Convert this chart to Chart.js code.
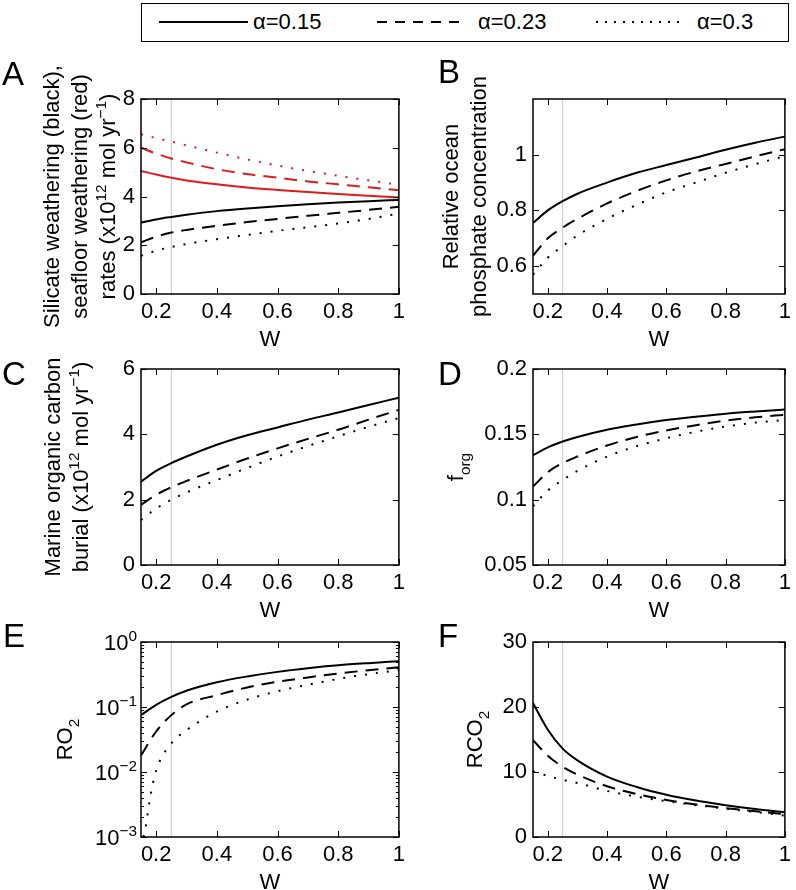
<!DOCTYPE html>
<html lang="en">
<head>
<meta charset="UTF-8">
<title>Weathering model sensitivity to W</title>
<script src="https://cdn.jsdelivr.net/npm/chart.js@4"></script>
<style>
  body { margin: 0; background: #fff; }
  #wrap { position: relative; width: 796px; height: 890px; overflow: hidden;
          font-family: 'Liberation Sans', Arial, sans-serif; }
  canvas.panel { position: absolute; }
  #legend { position: absolute; left: 141px; top: 3px; width: 648px; height: 39px;
            box-sizing: border-box; border: 1.5px solid #000; }
  #legend span { position: absolute; top: 0; line-height: 36px; font-size: 22px; color: #000; }
  #legend svg { position: absolute; left: 0; top: 0; }
</style>
</head>
<body>
<div id="wrap">
  <div id="legend"></div>
  <canvas class="panel" id="pA" width="410" height="305" style="left:0;top:45px"></canvas>
  <canvas class="panel" id="pB" width="386" height="305" style="left:410px;top:45px"></canvas>
  <canvas class="panel" id="pC" width="410" height="295" style="left:0;top:330px"></canvas>
  <canvas class="panel" id="pD" width="386" height="295" style="left:410px;top:330px"></canvas>
  <canvas class="panel" id="pE" width="410" height="290" style="left:0;top:600px"></canvas>
  <canvas class="panel" id="pF" width="386" height="290" style="left:410px;top:600px"></canvas>
</div>

<script>
// ---- data ----
const wValues = [0.15, 0.2, 0.25, 0.3, 0.4, 0.5, 0.6, 0.7, 0.8, 0.9, 1.0];
const alphaLabels = ['α=0.15', 'α=0.23', 'α=0.3'];
const xTickValues = [0.2, 0.4, 0.6, 0.8, 1];
const presentW = 0.25;

// A: silicate weathering (black) / seafloor weathering (red), 1e12 mol/yr
const silicateA15 = [2.93, 3.06, 3.16, 3.25, 3.40, 3.51, 3.60, 3.68, 3.75, 3.81, 3.86];
const silicateA23 = [2.12, 2.35, 2.52, 2.63, 2.80, 2.95, 3.08, 3.21, 3.33, 3.45, 3.58];
const silicateA30 = [1.57, 1.78, 1.93, 2.05, 2.25, 2.42, 2.59, 2.74, 2.89, 3.08, 3.30];
const seafloorA15 = [5.05, 4.90, 4.77, 4.66, 4.50, 4.37, 4.27, 4.18, 4.10, 4.03, 3.96];
const seafloorA23 = [6.00, 5.76, 5.56, 5.40, 5.12, 4.92, 4.77, 4.62, 4.50, 4.38, 4.26];
const seafloorA30 = [6.55, 6.40, 6.25, 6.10, 5.80, 5.52, 5.27, 5.05, 4.85, 4.66, 4.48];
const yTicksA = [0, 2, 4, 6, 8];

// B: relative ocean phosphate
const phosphateB15 = [0.755, 0.80, 0.833, 0.86, 0.90, 0.935, 0.963, 0.99, 1.018, 1.043, 1.065];
const phosphateB23 = [0.637, 0.70, 0.738, 0.77, 0.825, 0.87, 0.908, 0.94, 0.967, 0.994, 1.02];
const phosphateB30 = [0.57, 0.63, 0.672, 0.71, 0.77, 0.82, 0.865, 0.90, 0.935, 0.966, 0.995];
const yTicksB = [0.6, 0.8, 1];

// C: marine organic carbon burial, 1e12 mol/yr
const burialC15 = [2.55, 2.88, 3.12, 3.32, 3.68, 3.97, 4.21, 4.45, 4.67, 4.90, 5.12];
const burialC23 = [1.84, 2.15, 2.38, 2.57, 2.92, 3.26, 3.57, 3.86, 4.14, 4.45, 4.75];
const burialC30 = [1.38, 1.73, 2.00, 2.22, 2.60, 2.97, 3.32, 3.64, 3.94, 4.23, 4.50];
const yTicksC = [0, 2, 4, 6];

// D: f_org
const forgD15 = [0.134, 0.140, 0.1445, 0.148, 0.1535, 0.1575, 0.161, 0.1635, 0.1658, 0.1675, 0.169];
const forgD23 = [0.110, 0.121, 0.128, 0.133, 0.1415, 0.148, 0.153, 0.157, 0.1605, 0.163, 0.165];
const forgD30 = [0.095, 0.107, 0.115, 0.122, 0.133, 0.141, 0.147, 0.152, 0.156, 0.159, 0.161];
const yTicksD = [0.05, 0.1, 0.15, 0.2];

// E: RO2 (log axis); the alpha=0.3 curve has its own W samples near the low end
const ro2E15 = [0.075, 0.108, 0.143, 0.178, 0.240, 0.295, 0.347, 0.394, 0.437, 0.473, 0.507];
const ro2E23 = [0.018, 0.042, 0.075, 0.11, 0.152, 0.20, 0.244, 0.285, 0.327, 0.368, 0.41];
const wValuesE30 = [0.158, 0.165, 0.18, 0.2, 0.25, 0.3, 0.4, 0.5, 0.6, 0.7, 0.8, 0.9, 1.0];
const ro2E30 = [0.001, 0.0014, 0.004, 0.0105, 0.0275, 0.044, 0.085, 0.13, 0.175, 0.22, 0.27, 0.32, 0.37];
const yTicksE = [0.001, 0.01, 0.1, 1];
const yExponentsE = ['−3', '−2', '−1', '0'];

// F: RCO2
const rco2F15 = [20.6, 16.5, 13.6, 11.8, 9.3, 7.7, 6.5, 5.6, 4.9, 4.3, 3.8];
const rco2F23 = [14.9, 12.5, 10.8, 9.6, 7.8, 6.6, 5.7, 5.0, 4.45, 3.95, 3.5];
const rco2F30 = [10.1, 9.4, 8.8, 8.3, 7.1, 6.2, 5.5, 4.9, 4.35, 3.85, 3.3];
const yTicksF = [0, 10, 20, 30];

// ---- styling ----
const FONT = "'Liberation Sans', Arial, sans-serif";
const RED = '#e31a1c';
const dashes = [[], [13, 8], [2, 9]];
const legendDashes = [[], [10, 8], [2, 7]];

Chart.defaults.font.family = FONT;
Chart.defaults.font.size = 22;
Chart.defaults.color = '#000';

// legend
(function buildLegend() {
  const lg = document.getElementById('legend');
  const swatchX = [17, 235, 454];
  const swatchLen = [89, 90, 86];
  const textX = [111, 336, 555];
  let svg = '<svg width="646" height="36">';
  alphaLabels.forEach((lab, i) => {
    svg += '<line x1="' + swatchX[i] + '" y1="18" x2="' + (swatchX[i] + swatchLen[i]) +
      '" y2="18" stroke="#000" stroke-width="2" stroke-dasharray="' +
      (legendDashes[i].length ? legendDashes[i].join(' ') : 'none') + '"/>';
  });
  svg += '</svg>';
  lg.innerHTML = svg + alphaLabels.map((lab, i) =>
    '<span style="left:' + textX[i] + 'px">' + lab + '</span>').join('');
})();

// rich text helpers (super/subscripts)
function setFont(ctx, size) { ctx.font = size + 'px ' + FONT; }
function richWidth(ctx, segs, size) {
  let w = 0;
  segs.forEach(s => { setFont(ctx, s.k ? size * 0.7 : size); w += ctx.measureText(s.t).width; });
  return w;
}
function drawRich(ctx, segs, x, y, size) {
  segs.forEach(s => {
    setFont(ctx, s.k ? size * 0.7 : size);
    const dy = s.k === 'sup' ? -size * 0.42 : s.k === 'sub' ? size * 0.3 : 0;
    ctx.fillText(s.t, x, y + dy);
    x += ctx.measureText(s.t).width;
  });
}
const T = t => ({ t });
const SUP = t => ({ t, k: 'sup' });
const SUB = t => ({ t, k: 'sub' });

function makeDecor(meta) {
  return {
    id: 'panelDecor',
    afterDraw(chart) {
      const ctx = chart.ctx, a = chart.chartArea;
      const xs = chart.scales.x, ys = chart.scales.y;
      ctx.save();
      ctx.fillStyle = '#000';
      ctx.strokeStyle = '#000';
      // inward tick marks on all four sides
      ctx.lineWidth = 1;
      ctx.beginPath();
      xTickValues.forEach(v => {
        const px = Math.round(xs.getPixelForValue(v)) + 0.5;
        ctx.moveTo(px, a.bottom); ctx.lineTo(px, a.bottom - 6);
        ctx.moveTo(px, a.top); ctx.lineTo(px, a.top + 6);
      });
      meta.tickMarks.forEach(t => {
        const py = Math.round(ys.getPixelForValue(t.v)) + 0.5;
        ctx.moveTo(a.left, py); ctx.lineTo(a.left + t.len, py);
        ctx.moveTo(a.right, py); ctx.lineTo(a.right - t.len, py);
      });
      ctx.stroke();
      // box
      ctx.lineWidth = 1.5;
      ctx.strokeRect(a.left, a.top, a.right - a.left, a.bottom - a.top);
      // log tick labels
      if (meta.logLabels) {
        ctx.textBaseline = 'alphabetic';
        ctx.textAlign = 'left';
        yTicksE.forEach((v, i) => {
          const segs = [T('10'), SUP(yExponentsE[i])];
          const w = richWidth(ctx, segs, 22);
          const py = ys.getPixelForValue(v);
          drawRich(ctx, segs, a.left - 4 - w, py + 8, 22);
        });
      }
      // x-axis title
      setFont(ctx, 22);
      ctx.textAlign = 'center';
      ctx.textBaseline = 'alphabetic';
      ctx.fillText('W', (a.left + a.right) / 2, a.bottom + 52);
      // panel letter
      setFont(ctx, 33);
      ctx.textAlign = 'left';
      ctx.fillText(meta.letter, a.left + meta.letterDx, a.top + meta.letterDy);
      // y-axis title, rotated, multi-line
      const n = meta.title.length;
      const cy = (a.top + a.bottom) / 2;
      meta.title.forEach((segs, i) => {
        const w = richWidth(ctx, segs, 22);
        ctx.save();
        ctx.translate(a.left - meta.titleOffset - (n - 1 - i) * 28, cy);
        ctx.rotate(-Math.PI / 2);
        ctx.textAlign = 'left';
        drawRich(ctx, segs, -w / 2, 0, 22);
        ctx.restore();
      });
      ctx.restore();
    }
  };
}

function series(xv, yv, i, color) {
  return {
    data: yv.map((y, k) => ({ x: xv[k], y })),
    borderColor: color, borderWidth: 2, borderDash: dashes[i],
    borderCapStyle: 'butt', pointRadius: 0, cubicInterpolationMode: 'monotone', fill: false
  };
}

function makePanel(id, cfg) {
  const cv = document.getElementById(id);
  const datasets = cfg.series.slice();
  datasets.push({
    data: [{ x: presentW, y: cfg.yMin }, { x: presentW, y: cfg.yMax }],
    borderColor: '#c8c8c8', borderWidth: 1, pointRadius: 0, fill: false
  });
  const yTickVals = cfg.yTicks;
  return new Chart(cv, {
    type: 'line',
    data: { datasets },
    options: {
      responsive: false, animation: false, devicePixelRatio: 1,
      layout: { padding: { top: cfg.padTop, right: cfg.padRight, left: 0, bottom: 0 } },
      plugins: { legend: { display: false }, tooltip: { enabled: false } },
      scales: {
        x: {
          type: 'linear', min: 0.15, max: 1,
          afterBuildTicks: s => { s.ticks = xTickValues.map(v => ({ value: v })); },
          afterFit: s => { s.height = cfg.xAxisH; },
          grid: { display: false, drawTicks: false }, border: { display: false },
          ticks: { padding: 5, autoSkip: false, maxRotation: 0, callback: v => String(v) }
        },
        y: {
          type: cfg.yType || 'linear', min: cfg.yMin, max: cfg.yMax,
          afterBuildTicks: s => { s.ticks = yTickVals.map(v => ({ value: v })); },
          afterFit: s => { s.width = cfg.yAxisW; },
          grid: { display: false, drawTicks: false }, border: { display: false },
          ticks: { display: !cfg.logLabels, padding: 6, autoSkip: false, callback: v => String(v) }
        }
      }
    },
    plugins: [makeDecor({
      letter: cfg.letter, letterDx: cfg.letterDx, letterDy: cfg.letterDy,
      title: cfg.title, titleOffset: cfg.titleOffset, logLabels: cfg.logLabels,
      tickMarks: cfg.tickMarks || yTickVals.map(v => ({ v, len: 6 }))
    })]
  });
}

const left = { yAxisW: 141, padRight: 8, letterDx: -139 };
const right = { yAxisW: 123, padRight: 3, letterDx: -95 };
const row1 = { padTop: 54, xAxisH: 56 };
const row2 = { padTop: 39, xAxisH: 60 };
const row3 = { padTop: 42, xAxisH: 53 };
const unitLine = [T('(x10'), SUP('12'), T(' mol yr'), SUP('−1'), T(')')];

makePanel('pA', Object.assign({}, left, row1, {
  letter: 'A', letterDy: -14, titleOffset: 26, yMin: 0, yMax: 8, yTicks: yTicksA,
  title: [[T('Silicate weathering (black),')], [T('seafloor weathering (red)')], [T('rates ')].concat(unitLine)],
  series: [
    series(wValues, silicateA15, 0, '#000'), series(wValues, silicateA23, 1, '#000'), series(wValues, silicateA30, 2, '#000'),
    series(wValues, seafloorA15, 0, RED), series(wValues, seafloorA23, 1, RED), series(wValues, seafloorA30, 2, RED)
  ]
}));

makePanel('pB', Object.assign({}, right, row1, {
  letter: 'B', letterDy: -16, titleOffset: 47, yMin: 0.5, yMax: 1.2, yTicks: yTicksB,
  title: [[T('Relative ocean')], [T('phosphate concentration')]],
  series: [series(wValues, phosphateB15, 0, '#000'), series(wValues, phosphateB23, 1, '#000'), series(wValues, phosphateB30, 2, '#000')]
}));

makePanel('pC', Object.assign({}, left, row2, {
  letter: 'C', letterDy: 16, titleOffset: 53, yMin: 0, yMax: 6, yTicks: yTicksC,
  title: [[T('Marine organic carbon')], [T('burial ')].concat(unitLine)],
  series: [series(wValues, burialC15, 0, '#000'), series(wValues, burialC23, 1, '#000'), series(wValues, burialC30, 2, '#000')]
}));

makePanel('pD', Object.assign({}, right, row2, {
  letter: 'D', letterDy: 16, titleOffset: 70, yMin: 0.05, yMax: 0.2, yTicks: yTicksD,
  title: [[T('f'), SUB('org')]],
  series: [series(wValues, forgD15, 0, '#000'), series(wValues, forgD23, 1, '#000'), series(wValues, forgD30, 2, '#000')]
}));

const logMarks = [];
for (let d = -3; d < 0; d++) {
  for (let m = 1; m < 10; m++) logMarks.push({ v: m * Math.pow(10, d), len: m === 1 ? 6 : 3 });
}
logMarks.push({ v: 1, len: 6 });

makePanel('pE', Object.assign({}, left, row3, {
  letter: 'E', letterDx: -138, letterDy: 5, titleOffset: 69, yType: 'logarithmic',
  yMin: 0.001, yMax: 1, yTicks: yTicksE, logLabels: true, tickMarks: logMarks,
  title: [[T('RO'), SUB('2')]],
  series: [series(wValues, ro2E15, 0, '#000'), series(wValues, ro2E23, 1, '#000'), series(wValuesE30, ro2E30, 2, '#000')]
}));

makePanel('pF', Object.assign({}, right, row3, {
  letter: 'F', letterDy: 5, titleOffset: 51, yMin: 0, yMax: 30, yTicks: yTicksF,
  title: [[T('RCO'), SUB('2')]],
  series: [series(wValues, rco2F15, 0, '#000'), series(wValues, rco2F23, 1, '#000'), series(wValues, rco2F30, 2, '#000')]
}));
</script>
</body>
</html>
